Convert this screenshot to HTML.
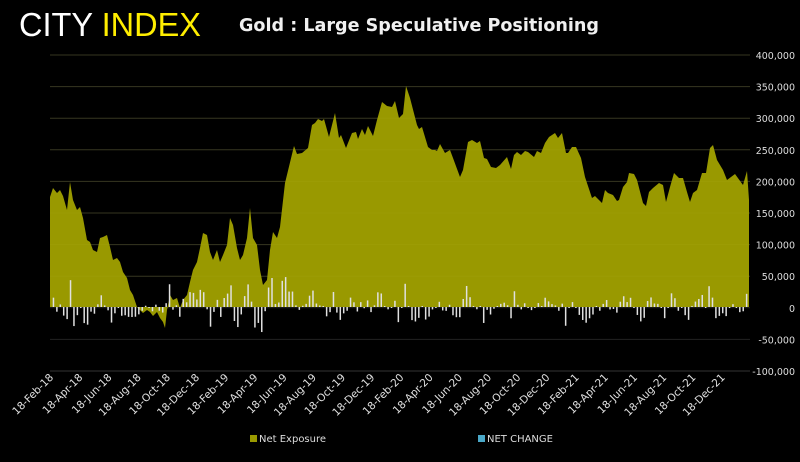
<!DOCTYPE html>
<html><head><meta charset="utf-8"><style>
body{margin:0;background:#000;width:800px;height:457px;overflow:hidden;font-family:"Liberation Sans",sans-serif}
</style></head><body>
<svg id="s" width="800" height="457" xmlns="http://www.w3.org/2000/svg">
<rect width="800" height="457" fill="#000"/>
<text x="19" y="36" font-size="33" fill="#fff" font-family="Liberation Sans, sans-serif" textLength="182" lengthAdjust="spacingAndGlyphs">CITY <tspan fill="#ffee00">INDEX</tspan></text>
<text x="239" y="31" font-size="18" font-weight="bold" fill="#f0f0f0" font-family="DejaVu Sans, sans-serif" textLength="360" lengthAdjust="spacingAndGlyphs">Gold : Large Speculative Positioning</text>
<g id="grid"></g>
<polygon id="area" fill="#999900"/>
<g id="grid2"></g>
<g id="bars" fill="#e0e0e0"></g>
<line x1="50" y1="371" x2="750" y2="371" stroke="#333" stroke-width="1"/>
<g id="xl" font-size="10.5" fill="#e0e0e0" font-family="DejaVu Sans, sans-serif"></g>
<rect x="250" y="435" width="7" height="7" fill="#999900"/>
<text x="259" y="442" font-size="10" fill="#ddd" font-family="DejaVu Sans, sans-serif">Net Exposure</text>
<rect x="478" y="435" width="7" height="7" fill="#4aa8c8"/>
<text x="487" y="442" font-size="10" fill="#ddd" font-family="DejaVu Sans, sans-serif">NET CHANGE</text>
</svg>
<script>
var ns="http://www.w3.org/2000/svg",g=document.getElementById('grid'),g2=document.getElementById('grid2');
function el(n,a,p,t){var e=document.createElementNS(ns,n);for(var k in a)e.setAttribute(k,a[k]);if(t)e.textContent=t;p.appendChild(e);return e;}
var labs=["400,000","350,000","300,000","250,000","200,000","150,000","100,000","50,000","0","-50,000","-100,000"];
for(var i=0;i<11;i++){var y=55+i*31.6;
 if(i<10){el('line',{x1:50,x2:750,y1:y,y2:y,stroke:'#222','stroke-width':1},g);
 if(i<8)el('line',{x1:50,x2:750,y1:y,y2:y,stroke:'#b0b020','stroke-width':1,'stroke-opacity':0.15},g2);}
 el('text',{x:795,y:y+4,'text-anchor':'end','font-size':9.5,fill:'#ddd','font-family':'DejaVu Sans, sans-serif'},g,labs[i]);}
var d="50:197,53:188,57:193,60:190,63:196,67:210,70:182,73:200,77:210,80:207,83:218,87:240,90:242,93:250,97:252,100:238,103:237,107:235,110:247,113:260,117:258,120:262,123:272,127:278,130:290,133:295,137:307,140:310,143:313,147:310,150:312,153:316,157:312,160:318,163:322,165:328,167:310,170:295,173:300,177:298,180:308,183:300,187:295,190:282,193:270,197:262,200:248,203:233,207:235,210:252,213:260,217:250,220:262,223:255,227:245,230:218,233:225,237:248,240:260,243:255,247:238,250:208,253:238,257:245,260:270,263:285,267:280,270:250,273:232,277:238,280:227,285:183,294:146,297:154,302:153,308:148,312:125,315:123,318:119,322:121,324:119,329:137,335:113,339:138,341:135,346:148,352:133,356:132,358:139,362:129,365:135,368:126,373:136,377:120,382:102,387:106,392:107,395:101,399:118,403:114,406:86,410:98,417:125,419:129,422:127,428:147,432:150,435:150,437:151,440:144,445:153,450:150,453:158,460:177,463:170,468:142,472:140,477:143,480:141,484:158,487:159,491:167,496:168,500:165,507:157,511:169,514:155,517:152,521:155,525:151,528:152,534:157,537:151,541:153,545:143,549:137,555:133,558:138,562:133,566:153,568:153,572:147,576:147,581:158,585:177,592:198,595:196,602:203,605:190,608:193,613:195,617:201,619:200,623:187,627:182,629:173,634:174,637:180,643:203,646:206,649:192,653:188,659:183,663:185,666:202,670:187,674:173,679:178,683:178,687:192,690:202,693:193,697:190,702:173,706:173,710:148,713:145,717:160,723:170,727:180,735:174,743:185,747:171,749:200".split(",").map(function(p){return p.split(":").map(Number)});
var pts="50,307 "+d.map(function(p){return p.join(",")}).join(" ")+" 749,307";
document.getElementById('area').setAttribute('points',pts);
function yat(x){for(var i=1;i<d.length;i++)if(d[i][0]>=x){var a=d[i-1],b=d[i];return a[1]+(b[1]-a[1])*(x-a[0])/(b[0]-a[0]);}return d[d.length-1][1];}
var b=document.getElementById('bars'),step=700/205,prev=yat(50);
for(var x=50+step;x<=749;x+=step){var y0=yat(x);var ch=(prev-y0);prev=y0;
 var h=Math.abs(ch)*1.1;if(h<1)h=1;var y=ch>0?307-h:307;
 el('rect',{x:x-0.7,y:y,width:1.5,height:h},b);}
var months=["Feb-18","Apr-18","Jun-18","Aug-18","Oct-18","Dec-18","Feb-19","Apr-19","Jun-19","Aug-19","Oct-19","Dec-19","Feb-20","Apr-20","Jun-20","Aug-20","Oct-20","Dec-20","Feb-21","Apr-21","Jun-21","Aug-21","Oct-21","Dec-21"];
var xl=document.getElementById('xl');
for(var i=0;i<24;i++){var x=54+i*29.2;
 el('text',{x:x,y:378,'text-anchor':'end',transform:'rotate(-45 '+x+' 378)'},xl,"18-"+months[i]);}
</script>
</body></html>
